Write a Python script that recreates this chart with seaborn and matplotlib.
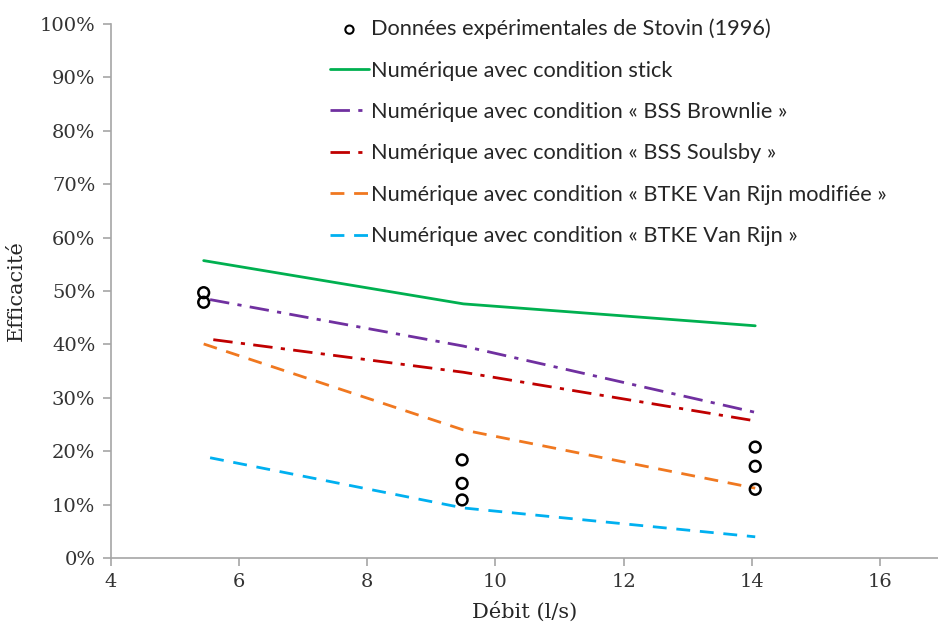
import matplotlib
matplotlib.use("Agg")
import matplotlib.pyplot as plt
import seaborn as sns
import pandas as pd
from matplotlib.ticker import FuncFormatter

# Data
exp_x = [5.45, 5.45, 9.48, 9.48, 9.48, 14.05, 14.05, 14.05]
exp_y = [49.7, 47.9, 18.4, 14.0, 10.9, 20.8, 17.2, 12.9]

stick_x = [5.45, 9.5, 14.05]
stick_y = [55.7, 47.6, 43.5]

brownlie_x = [5.55, 9.5, 14.05]
brownlie_y = [48.4, 39.7, 27.3]

soulsby_x = [5.6, 9.5, 14.05]
soulsby_y = [40.9, 34.8, 25.7]

vrmod_x = [5.45, 9.5, 14.05]
vrmod_y = [40.1, 24.0, 13.1]

vr_x = [5.55, 9.5, 14.05]
vr_y = [18.8, 9.4, 4.0]

labels = [
    "Données expérimentales de Stovin (1996)",
    "Numérique avec condition stick",
    "Numérique avec condition « BSS Brownlie »",
    "Numérique avec condition « BSS Soulsby »",
    "Numérique avec condition « BTKE Van Rijn modifiée »",
    "Numérique avec condition « BTKE Van Rijn »",
]

sns.set_style("white")
plt.rcParams['font.family'] = ['DejaVu Serif']

fig = plt.figure(figsize=(9.38, 6.3), dpi=100)
ax = fig.add_axes([0.118, 0.114, 0.882, 0.848])

sns.scatterplot(x=exp_x, y=exp_y, ax=ax, marker='o', s=60, facecolor='none',
                edgecolor='black', linewidth=1.8, label=labels[0], zorder=5)
sns.lineplot(x=stick_x, y=stick_y, ax=ax, color='#00b050', linewidth=2, label=labels[1])
sns.lineplot(x=brownlie_x, y=brownlie_y, ax=ax, color='#7030a0', linewidth=2,
             label=labels[2]).lines[-1].set_dashes([7, 3, 1.5, 3])
sns.lineplot(x=soulsby_x, y=soulsby_y, ax=ax, color='#c00000', linewidth=2,
             label=labels[3]).lines[-1].set_dashes([7, 3, 1.5, 3])
sns.lineplot(x=vrmod_x, y=vrmod_y, ax=ax, color='#f07820', linewidth=2,
             label=labels[4]).lines[-1].set_dashes([5, 3.5])
sns.lineplot(x=vr_x, y=vr_y, ax=ax, color='#00b0f0', linewidth=2,
             label=labels[5]).lines[-1].set_dashes([5, 3.5])

ax.set_xlim(4, 16.9)
ax.set_ylim(0, 100)
ax.set_xticks([4, 6, 8, 10, 12, 14, 16])
ax.set_yticks(range(0, 101, 10))
ax.yaxis.set_major_formatter(FuncFormatter(lambda v, p: f"{int(v)}%"))

for side in ['top', 'right']:
    ax.spines[side].set_visible(False)
for side in ['left', 'bottom']:
    ax.spines[side].set_color('#a6a6a6')
    ax.spines[side].set_linewidth(1.2)
ax.tick_params(axis='both', which='major', direction='out', length=6, width=1.2,
               color='#a6a6a6', labelsize=14, labelcolor='#333333', left=True, bottom=True,
               pad=5)

ax.set_xlabel("Débit (l/s)", fontsize=15, labelpad=7)
ax.set_ylabel("Efficacité", fontsize=15, labelpad=10)

leg = ax.legend(loc='upper left', bbox_to_anchor=(0.255, 1.026), frameon=False,
                prop={'family': ['Lato', 'DejaVu Sans'], 'size': 15.7},
                labelspacing=0.98, handlelength=1.75, handletextpad=0.12, borderaxespad=0)
leg.legend_handles[0].set_sizes([35])
leg.legend_handles[0].set_linewidth(1.5)

fig.savefig("out.png", dpi=100)
